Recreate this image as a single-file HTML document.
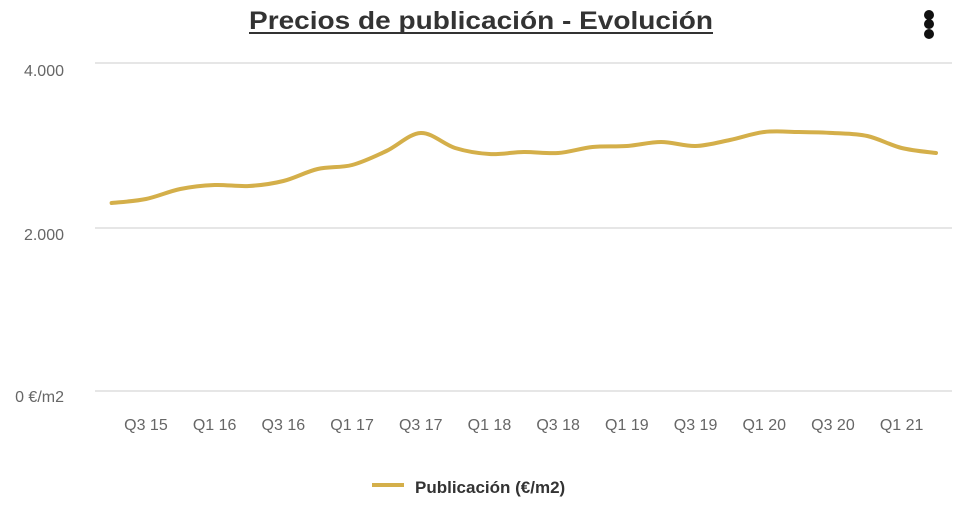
<!DOCTYPE html>
<html><head><meta charset="utf-8"><style>
body{margin:0;background:#fff;width:964px;height:506px;overflow:hidden;font-family:"Liberation Sans",sans-serif}
</style></head><body>
<svg width="964" height="506" xmlns="http://www.w3.org/2000/svg">
<text x="249" y="29" textLength="464" lengthAdjust="spacingAndGlyphs" font-family="Liberation Sans, sans-serif" font-weight="bold" font-size="25" fill="#333">Precios de publicación - Evolución</text>
<line x1="249" y1="33" x2="713" y2="33" stroke="#333" stroke-width="2"/>
<circle cx="929" cy="15" r="5" fill="#111"/><circle cx="929" cy="24" r="5" fill="#111"/><circle cx="929" cy="34" r="5" fill="#111"/>
<g stroke="#e6e6e6" stroke-width="2">
<line x1="95" y1="63" x2="952" y2="63"/><line x1="95" y1="228" x2="952" y2="228"/><line x1="95" y1="391" x2="952" y2="391"/>
</g>
<g font-size="16" fill="#666" text-anchor="end">
<text x="64" y="76">4.000</text><text x="64" y="240">2.000</text><text x="64" y="402">0 €/m2</text>
</g>
<g font-size="16" fill="#666" text-anchor="middle" id="xl"></g>
<path id="ln" fill="none" stroke="#d4af4a" stroke-width="4" stroke-linejoin="round" stroke-linecap="round"/>
<line x1="372" y1="485" x2="404" y2="485" stroke="#d4af4a" stroke-width="4"/>
<text x="415" y="493" font-size="17" font-weight="bold" fill="#333">Publicación (€/m2)</text>
</svg>
<script>
var ys=[203,199,189,185,186,181,169,165,151,133,148,154,152,153,147,146,142,146,140,132,132,133,136,148,153];
var x0=111.6,dx=34.35,p=ys.map((y,i)=>[x0+i*dx,y]);
var d="M"+p[0][0]+","+p[0][1];
for(var i=0;i<p.length-1;i++){var a=p[Math.max(i-1,0)],b=p[i],c=p[i+1],e=p[Math.min(i+2,p.length-1)];
d+=" C"+(b[0]+(c[0]-a[0])/6)+","+(b[1]+(c[1]-a[1])/6)+" "+(c[0]-(e[0]-b[0])/6)+","+(c[1]-(e[1]-b[1])/6)+" "+c[0]+","+c[1];}
document.getElementById("ln").setAttribute("d",d);
var labs=["Q3 15","Q1 16","Q3 16","Q1 17","Q3 17","Q1 18","Q3 18","Q1 19","Q3 19","Q1 20","Q3 20","Q1 21"],g=document.getElementById("xl");
labs.forEach((l,i)=>{var t=document.createElementNS("http://www.w3.org/2000/svg","text");t.setAttribute("x",x0+dx+i*2*dx);t.setAttribute("y",430);t.textContent=l;g.appendChild(t);});
</script>
</body></html>
